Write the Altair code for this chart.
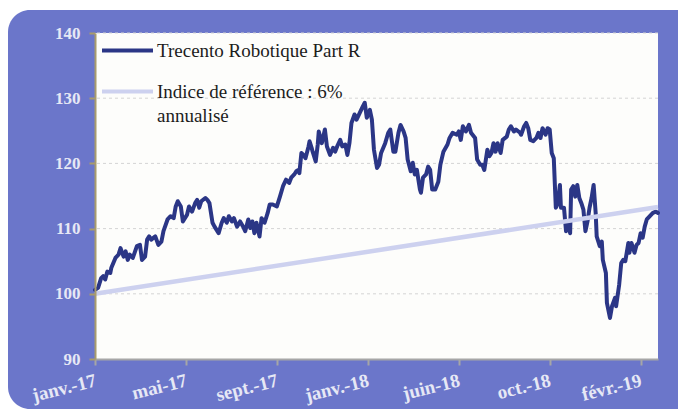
import altair as alt
import pandas as pd

serie_fonds = "Trecento Robotique Part R"
serie_ref = "Indice de référence : 6% annualisé"

jours_fonds = [
    0, 3, 6, 8, 10, 12, 15, 16, 20, 23,
    25, 28, 30, 32, 34, 37, 41, 44, 46, 49,
    51, 53, 55, 59, 62, 65, 67, 71, 74, 77,
    79, 81, 84, 86, 90, 92, 95, 98, 100, 102,
    104, 108, 110, 112, 115, 117, 121, 124, 126, 129,
    131, 134, 136, 139, 142, 145, 147, 150, 152, 154,
    156, 158, 161, 163, 166, 169, 171, 174, 178, 181,
    184, 187, 190, 192, 195, 197, 199, 200, 202, 204,
    206, 209, 210, 212, 213, 216, 218, 219, 222, 225,
    227, 230, 233, 235, 237, 240, 242, 245, 247, 249,
    251, 254, 256, 259, 262, 264, 266, 269, 271, 273,
    276, 278, 280, 284, 287, 289, 292, 294, 297, 299,
    302, 304, 306, 309, 311, 313, 315, 318, 319, 321,
    324, 326, 328, 330, 333, 336, 338, 341, 345, 347,
    350, 354, 356, 358, 360, 363, 366, 368, 372, 374,
    377, 379, 381, 384, 386, 388, 390, 392, 394, 397,
    399, 403, 405, 407, 410, 412, 416, 417, 420, 422,
    424, 426, 429, 432, 434, 436, 438, 441, 443, 445,
    447, 449, 451, 453, 455, 456, 459, 461, 463, 465,
    466, 468, 470, 472, 474, 476, 478, 480, 482, 484,
    486, 488, 490, 491, 494, 496, 497, 500, 501, 504,
    506, 509, 510, 513, 515, 517, 519, 522, 523, 525,
    528, 530, 532, 534, 536, 538, 540, 543, 546, 549,
    551,
]
valeurs_fonds = [
    100.6, 100.9, 102.4, 102.7, 102.2, 103.4, 103.2, 104.0, 105.5, 106.0,
    107.0, 105.7, 106.5, 105.2, 106.0, 105.5, 107.3, 107.5, 105.2, 105.7,
    108.3, 108.8, 108.3, 108.8, 107.5, 108.0, 109.6, 111.4, 111.9, 111.6,
    113.4, 114.2, 113.4, 111.1, 112.1, 113.4, 112.6, 113.9, 114.4, 113.2,
    114.2, 114.7, 114.4, 113.9, 110.9, 110.3, 109.3, 110.9, 111.6, 110.9,
    111.9, 111.1, 111.6, 110.3, 111.1, 110.3, 109.6, 111.4, 110.1, 111.1,
    109.3, 110.9, 108.8, 111.6, 110.9, 112.4, 113.7, 113.7, 113.4, 114.9,
    116.5, 117.5, 117.0, 117.8, 118.3, 118.8, 119.0, 118.5, 121.6, 121.3,
    120.8, 122.6, 123.4, 122.4, 121.8, 120.3, 122.9, 124.9, 123.1, 125.2,
    122.6, 121.3, 122.4, 121.8, 122.6, 123.6, 122.6, 122.9, 121.3, 123.1,
    126.2, 127.5, 126.7, 127.7, 128.7, 129.3, 127.0, 128.2, 126.7, 122.1,
    119.3, 119.8, 121.6, 123.1, 124.7, 125.2, 121.8, 121.8, 124.7, 125.9,
    124.9, 123.9, 120.6, 118.8, 120.1, 118.3, 119.0, 116.0, 115.5, 117.8,
    118.3, 119.5, 119.0, 116.0, 116.0, 117.2, 119.8, 121.8, 122.9, 123.9,
    124.7, 124.4, 124.9, 123.6, 125.7, 124.9, 125.9, 124.7, 123.9, 120.6,
    119.8, 119.8, 119.0, 122.1, 121.1, 121.6, 123.1, 121.8, 123.1, 121.6,
    123.6, 124.1, 125.2, 125.7, 124.9, 125.2, 124.7, 124.4, 125.7, 126.2,
    125.4, 123.6, 123.4, 123.9, 124.7, 123.9, 125.4, 124.4, 125.4, 125.2,
    121.6, 120.8, 113.2, 113.9, 116.7, 113.2, 113.2, 109.6, 110.9, 109.3,
    116.0, 116.5, 114.9, 116.7, 114.7, 113.9, 112.9, 109.6, 111.1, 113.2,
    114.7, 116.7, 112.4, 108.8, 107.3, 108.0, 105.2, 103.2, 98.6, 96.3,
    98.1, 99.4, 98.1, 101.4, 104.7, 105.2, 105.0, 107.8, 106.3, 107.8,
    106.3, 107.5, 107.8, 109.3, 108.6, 110.3, 111.4, 111.9, 112.4, 112.6,
    112.4,
]
jours_ref = [0, 551]
valeurs_ref = [100.0, 113.3]

ticks_x = [0, 89, 178, 267, 356, 445, 534]
labels_x = ["janv.-17", "mai-17", "sept.-17", "janv.-18", "juin-18", "oct.-18", "févr.-19"]
ticks_y = [90, 100, 110, 120, 130, 140]

W, H = 563, 326
PAD = {"left": 87, "top": 25, "right": 20, "bottom": 50}

fonds = pd.DataFrame({"jour": jours_fonds, "valeur": valeurs_fonds, "serie": serie_fonds})
ref = pd.DataFrame({"jour": jours_ref, "valeur": valeurs_ref, "serie": serie_ref})
grille = pd.DataFrame({"valeur": ticks_y[1:]})
un = pd.DataFrame({"a": [0]})

label_expr = "[" + ",".join("'" + l + "'" for l in labels_x) + "][round(datum.value / 89)]"

FONT = "Liberation Serif"
AXIS_LABEL = "#e6e8f5"

x_scale = alt.Scale(domain=[0, 551], nice=False, zero=False)
y_scale = alt.Scale(domain=[90, 140], nice=False, zero=False)

x_axis = alt.Axis(values=ticks_x, labelExpr=label_expr, grid=False, title=None,
                  domainColor="#a6a6a6", domainWidth=2, tickColor="#a6a6a6", tickWidth=2,
                  tickSize=6, labelAngle=-14, labelAlign="right", labelBaseline="top",
                  labelPadding=6, labelOffset=-2, labelFont=FONT, labelFontSize=19,
                  labelFontWeight="bold", labelColor=AXIS_LABEL, labelOverlap=False, zindex=1)
y_axis = alt.Axis(values=ticks_y, grid=False, title=None,
                  domainColor="#a89b6d", domainWidth=2, tickColor="#a89b6d", tickWidth=2,
                  tickSize=6, labelPadding=9, labelFont=FONT, labelFontSize=17,
                  labelFontWeight="bold", labelColor=AXIS_LABEL, labelOverlap=False, zindex=1)

legend_expr = ("datum.label == '" + serie_ref + "' ? ['Indice de référence : 6%', 'annualisé'] : datum.label")

couleur = alt.Color(
    "serie:N",
    scale=alt.Scale(domain=[serie_fonds, serie_ref], range=["#2b3686", "#cdd1ef"]),
    legend=alt.Legend(title=None, orient="none", legendX=5, legendY=-10, symbolType="stroke",
                      symbolSize=2600, symbolStrokeWidth=4, labelFont=FONT, labelFontSize=19,
                      labelColor="#1c1c1c", labelLimit=400, labelOffset=2, rowPadding=3,
                      labelExpr=legend_expr, labelBaseline="middle"),
)

fond = alt.Chart(un).mark_rect(color="#6b76ca", cornerRadius=22).encode(
    x=alt.value(-87), x2=alt.value(W + 80), y=alt.value(-23), y2=alt.value(H + 50))
zone = alt.Chart(un).mark_rect(color="#fdfdfb").encode(
    x=alt.value(0), x2=alt.value(W), y=alt.value(0), y2=alt.value(H))
grid = alt.Chart(grille).mark_rule(color="#d4d4d4", strokeDash=[3, 3], strokeWidth=1).encode(
    y=alt.Y("valeur:Q", scale=y_scale, axis=y_axis))
ligne_fonds = alt.Chart(fonds).mark_line(strokeWidth=4, strokeJoin="round", strokeCap="round").encode(
    x=alt.X("jour:Q", scale=x_scale, axis=x_axis),
    y=alt.Y("valeur:Q", scale=y_scale, axis=y_axis),
    color=couleur)
ligne_ref = alt.Chart(ref).mark_line(strokeWidth=4.5).encode(
    x=alt.X("jour:Q", scale=x_scale, axis=x_axis),
    y=alt.Y("valeur:Q", scale=y_scale, axis=y_axis),
    color=couleur)

chart = alt.layer(fond, zone, grid, ligne_fonds, ligne_ref).properties(
    width=W, height=H, padding=PAD, autosize="none"
).configure(
    background="#ffffff", style={"guide-label": {"lineHeight": 24}}
).configure_view(stroke=None)

chart.save("out.html", embed_options={"renderer": "svg", "actions": False})
